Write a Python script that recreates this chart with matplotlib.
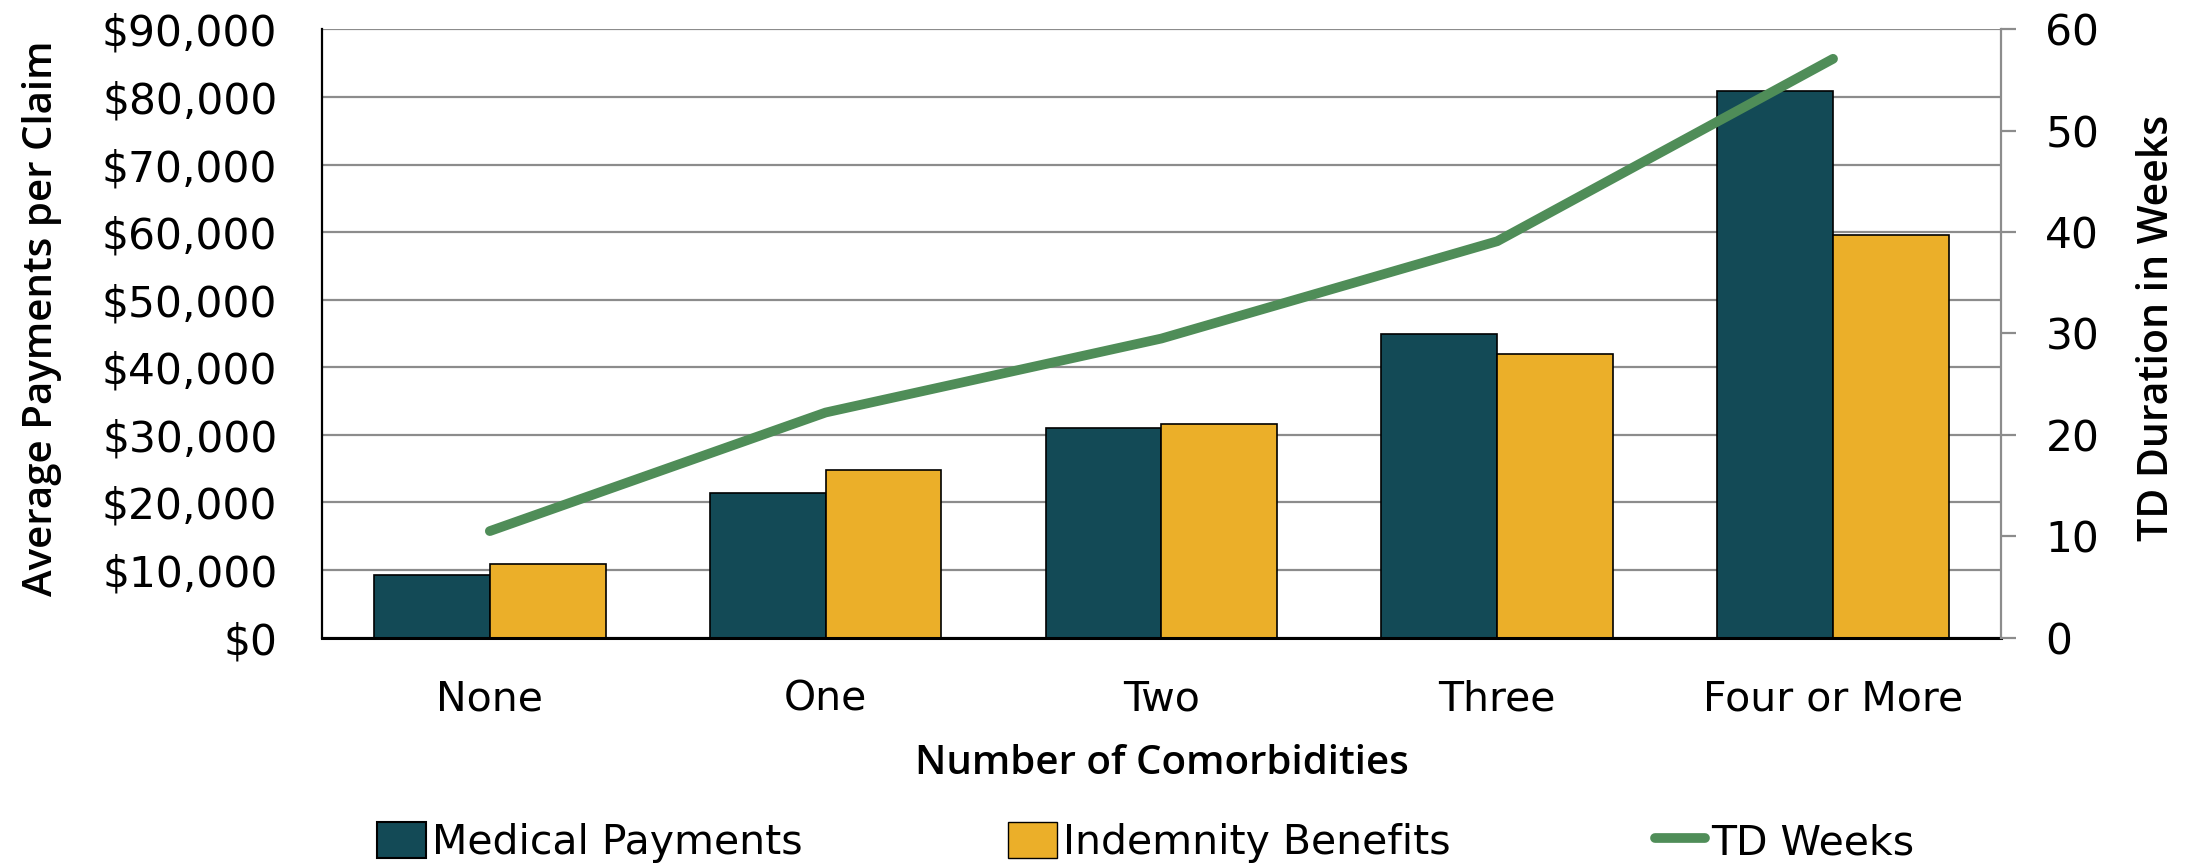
import numpy as np
import matplotlib
matplotlib.use("Agg")
import matplotlib.pyplot as plt
from matplotlib.patches import Patch
from matplotlib.lines import Line2D

plt.rcParams["font.family"] = ["DejaVu Sans"]

# ----------------------------
# DATA
# ----------------------------
categories = ["None", "One", "Two", "Three", "Four or More"]
medical = [9300, 21400, 31000, 44900, 80900]
indemnity = [10900, 24800, 31600, 41900, 59500]
td_weeks = [10.5, 22.2, 29.5, 39.1, 57.1]

y_ticks = [0, 10000, 20000, 30000, 40000, 50000, 60000, 70000, 80000, 90000]
y2_ticks = [0, 10, 20, 30, 40, 50, 60]

c_med = "#134A56"
c_ind = "#EBAF29"
c_line = "#4F8D58"
c_grid = "#8C8C8C"

label_font = dict(family=["Open Sans", "DejaVu Sans"], weight=600)

fig = plt.figure(figsize=(22.11, 8.65), dpi=100)
ax = fig.add_axes([0.1456, 0.263, 0.7594, 0.703])
ax2 = ax.twinx()

x = np.arange(len(categories))
w = 0.345

ax.bar(x - w / 2, medical, w, color=c_med, edgecolor="black", linewidth=1.2, zorder=2)
ax.bar(x + w / 2, indemnity, w, color=c_ind, edgecolor="black", linewidth=1.2, zorder=2)

ax.set_xlim(-0.5, len(categories) - 0.5)
ax.set_ylim(0, 90000)
ax.set_yticks(y_ticks)
ax.set_yticklabels([f"${v:,.0f}" for v in y_ticks])
ax.yaxis.grid(True, color=c_grid, linewidth=1.6, zorder=0)
ax.set_axisbelow(True)
ax.tick_params(axis="y", length=0, pad=32, labelsize=30.5)
ax.tick_params(axis="x", length=0, pad=30, labelsize=29.5)
ax.set_xticks(x)
ax.set_xticklabels(categories)

for s in ["top", "right"]:
    ax.spines[s].set_visible(False)
ax.spines["left"].set_linewidth(1.6)
ax.spines["bottom"].set_linewidth(2.2)

ax.set_ylabel("Average Payments per Claim", fontsize=29, labelpad=29, y=0.525, **label_font)
ax.set_xlabel("Number of Comorbidities", fontsize=29, labelpad=18, **label_font)

# secondary axis
ax2.plot(x, td_weeks, color=c_line, linewidth=7, solid_capstyle="round",
         solid_joinstyle="round", zorder=3)
ax2.set_ylim(0, 60)
ax2.set_yticks(y2_ticks)
ax2.tick_params(axis="y", length=11, width=1.6, color=c_grid, pad=21, labelsize=30.5)
for s in ["top", "left", "bottom"]:
    ax2.spines[s].set_visible(False)
ax2.spines["right"].set_color(c_grid)
ax2.spines["right"].set_linewidth(1.6)
ax2.set_ylabel("TD Duration in Weeks", fontsize=29.5, labelpad=26, y=0.51, **label_font)

handles = [
    Patch(facecolor=c_med, edgecolor="black", linewidth=1.5),
    Patch(facecolor=c_ind, edgecolor="black", linewidth=1.0),
    Line2D([0], [0], color=c_line, linewidth=7, solid_capstyle="round"),
]
labels = ["Medical Payments", "Indemnity Benefits", "TD Weeks"]
fig.legend(handles, labels, loc="center", bbox_to_anchor=(0.518, 0.026), ncol=3,
           frameon=False, fontsize=29.5, handlelength=1.2, handleheight=1.0,
           handletextpad=0.15, columnspacing=5.0, borderaxespad=0)

fig.savefig("out.png", dpi=100)
